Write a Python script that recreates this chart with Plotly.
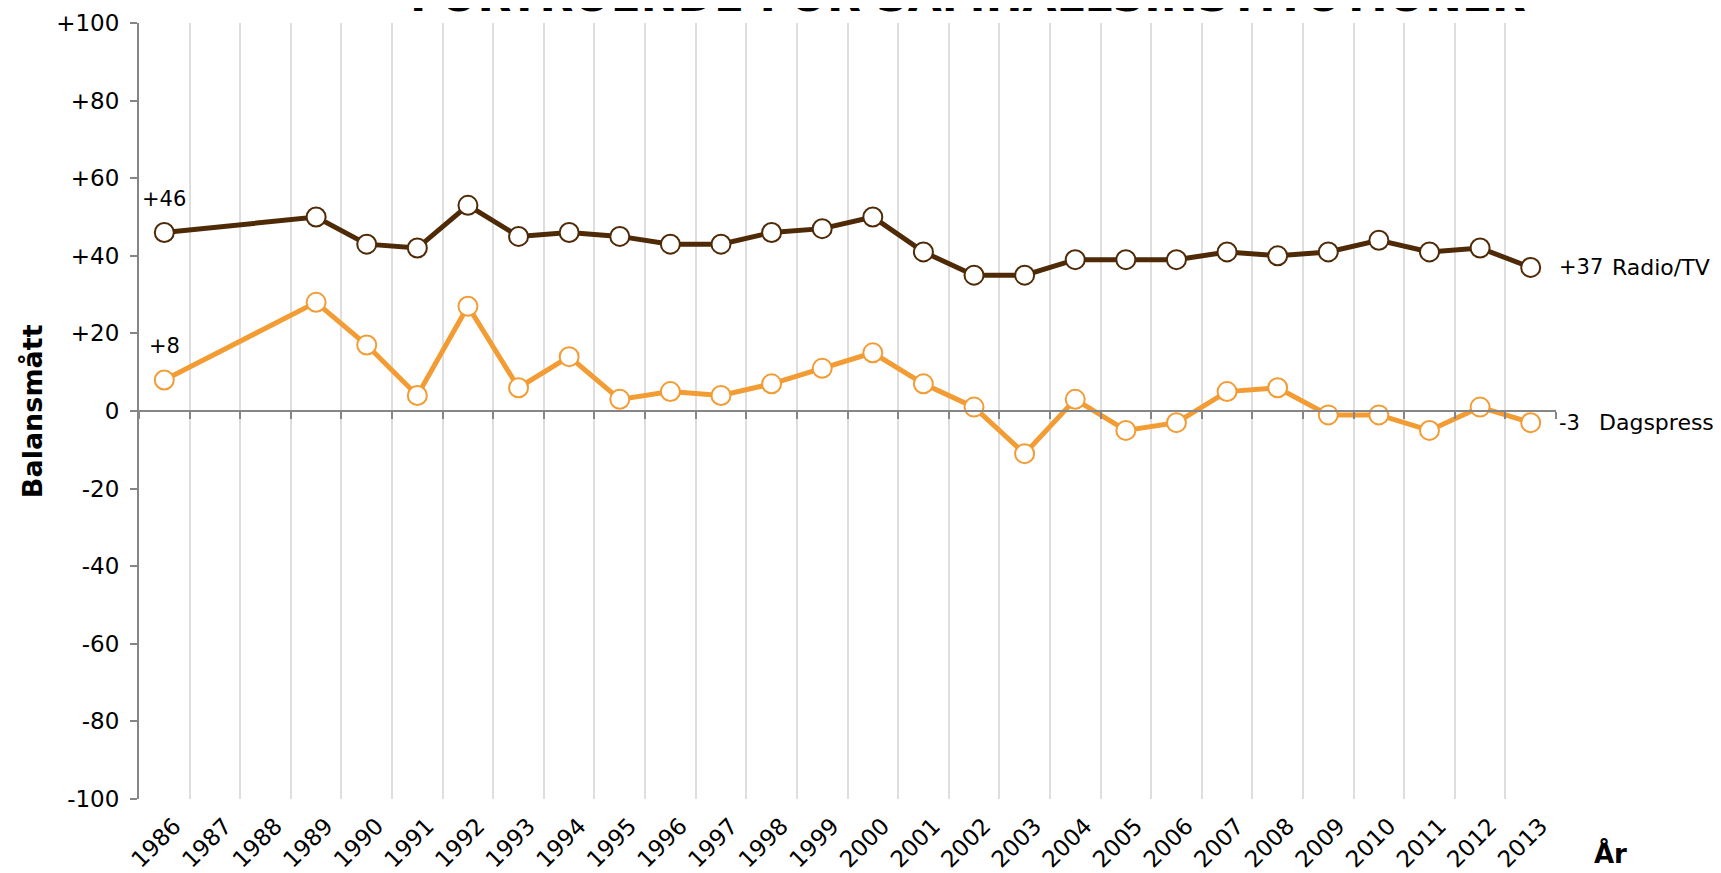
import plotly.graph_objects as go

years = [str(y) for y in range(1986, 2014)]
radio_tv = [46, None, None, 50, 43, 42, 53, 45, 46, 45, 43, 43, 46, 47, 50,
            41, 35, 35, 39, 39, 39, 41, 40, 41, 44, 41, 42, 37]
dagspress = [8, None, None, 28, 17, 4, 27, 6, 14, 3, 5, 4, 7, 11, 15,
             7, 1, -11, 3, -5, -3, 5, 6, -1, -1, -5, 1, -3]
ytick_vals = [100, 80, 60, 40, 20, 0, -20, -40, -60, -80, -100]
ytick_text = ["+100", "+80", "+60", "+40", "+20", "0", "-20", "-40", "-60", "-80", "-100"]

title_text = "FÖRTROENDE FÖR SAMHÄLLSINSTITUTIONER"
BROWN = "#4f2a07"
ORANGE = "#f39c34"
AXIS = "#868686"
FONT = "DejaVu Sans"

fig = go.Figure()

# invisible helper trace to carry the zero-line tick axis
fig.add_trace(go.Scatter(x=years, y=[0] * len(years), xaxis="x2", yaxis="y",
                         mode="markers", marker=dict(opacity=0), hoverinfo="skip",
                         showlegend=False))

fig.add_trace(go.Scatter(
    x=years, y=radio_tv, name="Radio/TV", mode="lines+markers", connectgaps=True,
    line=dict(color=BROWN, width=5),
    marker=dict(symbol="circle", size=19, color="white", line=dict(color=BROWN, width=2)),
    showlegend=False))

fig.add_trace(go.Scatter(
    x=years, y=dagspress, name="Dagspress", mode="lines+markers", connectgaps=True,
    line=dict(color=ORANGE, width=5),
    marker=dict(symbol="circle", size=19, color="white", line=dict(color=ORANGE, width=2)),
    showlegend=False))


def fmt(v):
    return f"{v:+d}" if v > 0 else f"{v:d}"


annotations = []
series = [("Radio/TV", radio_tv, 79), ("Dagspress", dagspress, 66)]
last_i = len(years) - 1
for name, vals, name_shift in series:
    first = vals[0]
    last = vals[-1]
    annotations.append(dict(x=0, y=first, xref="x", yref="y",
                            text=fmt(first), showarrow=False, yshift=34,
                            font=dict(family=FONT, size=21, color="black")))
    annotations.append(dict(x=last_i, y=last, xref="x", yref="y",
                            text=fmt(last), showarrow=False, xanchor="left", xshift=26,
                            font=dict(family=FONT, size=21, color="black")))
    annotations.append(dict(x=last_i, y=last, xref="x", yref="y",
                            text=name, showarrow=False, xanchor="left", xshift=name_shift,
                            font=dict(family=FONT, size=22, color="black")))

annotations.append(dict(x=0.585, y=1.0355, xref="paper", yref="paper", text=f"<b>{title_text}</b>",
                        showarrow=False, xanchor="center", yanchor="middle",
                        font=dict(family=FONT, size=44, color="black")))
annotations.append(dict(x=-0.0754, y=0.5, xref="paper", yref="paper", text="<b>Balansmått</b>",
                        showarrow=False, textangle=-90, xanchor="center", yanchor="middle",
                        font=dict(family=FONT, size=27, color="black")))
annotations.append(dict(x=1.0385, y=-0.07, xref="paper", yref="paper", text="<b>År</b>",
                        showarrow=False, xanchor="center", yanchor="middle",
                        font=dict(family=FONT, size=26, color="black")))

fig.update_layout(
    width=1713, height=865,
    margin=dict(l=131, r=165, t=15, b=74, autoexpand=False),
    plot_bgcolor="white", paper_bgcolor="white",
    font=dict(family=FONT, size=20, color="black"),
    annotations=annotations,
    xaxis=dict(type="category", categoryorder="array", categoryarray=years,
               range=[-0.5, 27.5], tickson="boundaries", showgrid=True,
               gridcolor="#dedede", gridwidth=1.5, showline=False, ticks="",
               tickangle=-45, tickfont=dict(family=FONT, size=23, color="black"),
               ticklabelstandoff=8, ticklabelshift=10, zeroline=False, fixedrange=True),
    xaxis2=dict(type="category", categoryorder="array", categoryarray=years,
                range=[-0.5, 27.5], overlaying="x", anchor="free", position=0.5,
                side="bottom", tickson="boundaries", showgrid=False, showline=True,
                linecolor=AXIS, linewidth=2, ticks="outside", ticklen=7, tickwidth=2,
                tickcolor=AXIS, showticklabels=False, zeroline=False),
    yaxis=dict(range=[-100, 100], tickvals=ytick_vals, ticktext=ytick_text,
               showgrid=False, zeroline=False, showline=True, linecolor=AXIS,
               linewidth=2, ticks="outside", ticklen=7, tickwidth=2, tickcolor=AXIS,
               tickfont=dict(family=FONT, size=23, color="black"),
               ticklabelstandoff=6),
)

fig.write_html("out.html")
